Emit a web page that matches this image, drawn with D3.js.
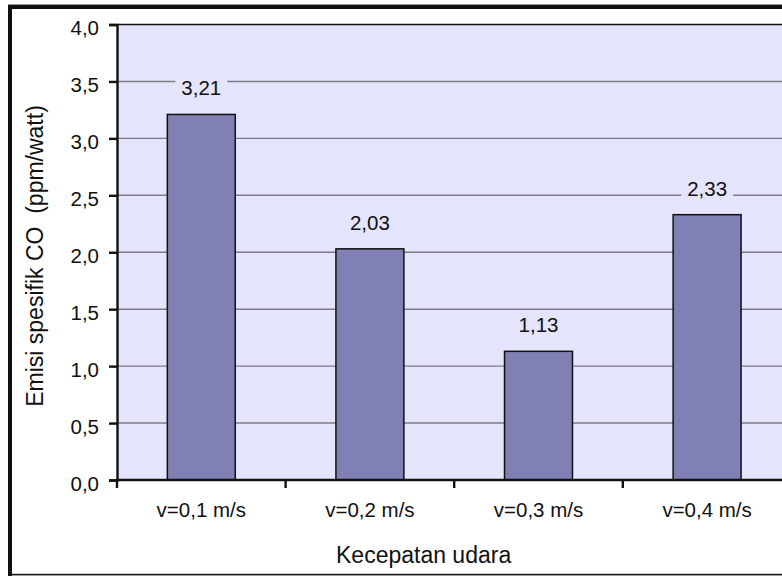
<!DOCTYPE html>
<html>
<head>
<meta charset="utf-8">
<script src="https://cdn.jsdelivr.net/npm/d3@7"></script>
<style>
  html, body { margin: 0; padding: 0; background: #ffffff; }
  svg { display: block; }
  text { font-family: "Liberation Sans", Arial, sans-serif; fill: #111; }
</style>
</head>
<body>
<svg id="chart" width="782" height="576"></svg>
<script>
// Specific CO emission per air velocity
const categories = ["v=0,1 m/s", "v=0,2 m/s", "v=0,3 m/s", "v=0,4 m/s"];
const values = [3.21, 2.03, 1.13, 2.33];
const yTicks = [0, 0.5, 1.0, 1.5, 2.0, 2.5, 3.0, 3.5, 4.0];
const xTitle = "Kecepatan udara";
const yTitle = "Emisi spesifik CO  (ppm/watt)";

const fmt = v => d3.format(".2f")(v).replace(".", ",");
const fmtTick = v => d3.format(".1f")(v).replace(".", ",");

const svg = d3.select("#chart");
const W = 782, H = 576;

// plot region (the right side runs past the window edge)
const plot = { left: 117, top: 24.5, right: 791.4, bottom: 480 };
const plotBg = "#e4e4fc";

const x = d3.scaleBand()
  .domain(categories)
  .range([plot.left, plot.right])
  .padding(0);
const y = d3.scaleLinear()
  .domain([0, 4])
  .range([plot.bottom, plot.top]);

// outer frame
svg.append("rect").attr("x", 8).attr("y", 4).attr("width", W).attr("height", 1).attr("fill", "#999");
svg.append("rect").attr("x", 8).attr("y", 5).attr("width", W).attr("height", 4).attr("fill", "#111");
svg.append("rect").attr("x", 8).attr("y", 5).attr("width", 4).attr("height", H - 5).attr("fill", "#111");
svg.append("rect").attr("x", 8).attr("y", 573.8).attr("width", W).attr("height", 1.6).attr("fill", "#111");

// plot background
svg.append("rect")
  .attr("x", plot.left).attr("y", plot.top)
  .attr("width", plot.right - plot.left).attr("height", plot.bottom - plot.top)
  .attr("fill", plotBg);

// horizontal gridlines
svg.append("g")
  .selectAll("line")
  .data(yTicks.filter(t => t > 0 && t < 4))
  .join("line")
  .attr("x1", plot.left).attr("x2", plot.right)
  .attr("y1", d => y(d)).attr("y2", d => y(d))
  .attr("stroke", "#7c7c88").attr("stroke-width", 1.4);

// top border of plot
svg.append("line")
  .attr("x1", plot.left).attr("x2", plot.right)
  .attr("y1", y(4)).attr("y2", y(4))
  .attr("stroke", "#111").attr("stroke-width", 1.6);

// bars
const barW = x.bandwidth() * 0.403;
svg.append("g")
  .selectAll("rect")
  .data(values)
  .join("rect")
  .attr("x", (d, i) => x(categories[i]) + x.bandwidth() / 2 - barW / 2)
  .attr("y", d => y(d))
  .attr("width", barW)
  .attr("height", d => y(0) - y(d))
  .attr("fill", "#8080b4")
  .attr("stroke", "#111")
  .attr("stroke-width", 1.5);

// y axis
const yAxis = d3.axisLeft(y)
  .tickValues(yTicks)
  .tickFormat(fmtTick)
  .tickSize(8)
  .tickPadding(10);
const gy = svg.append("g").attr("transform", `translate(${plot.left},0)`).call(yAxis);
gy.select(".domain").attr("stroke", "#111").attr("stroke-width", 2.4);
gy.selectAll(".tick line").attr("stroke", "#111").attr("stroke-width", 2.4);
gy.selectAll(".tick text")
  .attr("font-size", 20.5)
  .attr("fill", "#111")
  .attr("dy", "0.5em")
  .style("font-family", "'Liberation Sans', Arial, sans-serif");

// x axis: ticks sit on the category boundaries
const xAxis = d3.axisBottom(x).tickSize(0).tickPadding(22);
const gx = svg.append("g").attr("transform", `translate(0,${plot.bottom})`).call(xAxis);
gx.select(".domain").remove();
gx.append("line")
  .attr("x1", plot.left - 1).attr("x2", plot.right)
  .attr("stroke", "#111").attr("stroke-width", 2.4);
gx.selectAll(".boundary")
  .data(categories)
  .join("line")
  .attr("class", "boundary")
  .attr("x1", d => x(d)).attr("x2", d => x(d))
  .attr("y1", 0).attr("y2", 8)
  .attr("stroke", "#111").attr("stroke-width", 2.4);
gx.selectAll(".tick text")
  .attr("font-size", 20.5)
  .attr("fill", "#111")
  .attr("dy", "0.72em")
  .style("font-family", "'Liberation Sans', Arial, sans-serif");

// value labels with a background that breaks the gridlines
const labels = svg.append("g")
  .selectAll("g")
  .data(values)
  .join("g")
  .attr("transform", (d, i) => `translate(${x(categories[i]) + x.bandwidth() / 2},${y(d) - 19})`);
labels.append("text")
  .attr("text-anchor", "middle")
  .attr("font-size", 20.5)
  .text(d => fmt(d));
labels.each(function() {
  const g = d3.select(this);
  const bb = g.select("text").node().getBBox();
  g.insert("rect", "text")
    .attr("x", bb.x - 6).attr("y", bb.y - 1)
    .attr("width", bb.width + 12).attr("height", bb.height + 2)
    .attr("fill", plotBg);
});

// axis titles
svg.append("text")
  .attr("x", 336).attr("y", 563)
  .attr("font-size", 23)
  .text(xTitle);
svg.append("text")
  .attr("transform", "translate(43,256) rotate(-90)")
  .attr("text-anchor", "middle")
  .attr("font-size", 23)
  .attr("xml:space", "preserve")
  .style("white-space", "pre")
  .text(yTitle);
</script>
</body>
</html>
